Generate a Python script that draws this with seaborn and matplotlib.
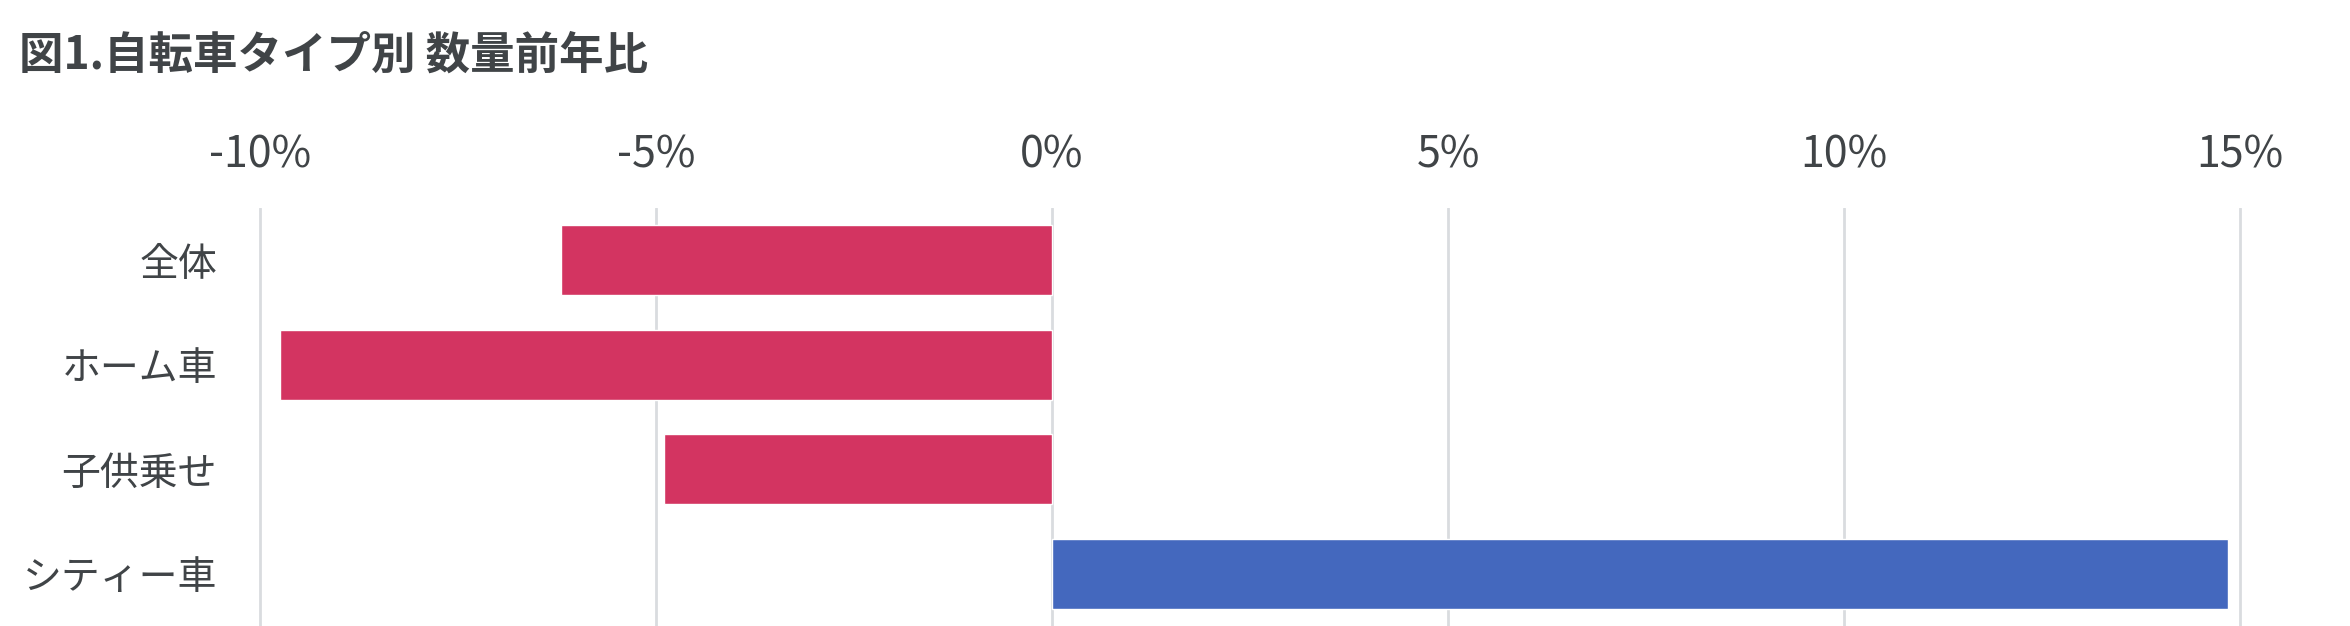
import matplotlib
matplotlib.use('Agg')
import matplotlib.pyplot as plt
import seaborn as sns
import pandas as pd

categories = ['全体', 'ホーム車', '子供乗せ', 'シティー車']
values = [-6.2, -9.75, -4.9, 14.85]
title = '図1.自転車タイプ別 数量前年比'
xticks = [-10, -5, 0, 5, 10, 15]
xtick_labels = [f'{t}%' for t in xticks]

sns.set_theme(style='white')
plt.rcParams['font.family'] = ['Noto Sans CJK JP', 'DejaVu Sans']

W, H = 2350, 626
fig = plt.figure(figsize=(W / 100, H / 100), dpi=100)
ppu = 396 / 5.0
x0 = 1052 - 10.05 * ppu
x1 = 1052 + 15.05 * ppu
ax = fig.add_axes([x0 / W, 0, (x1 - x0) / W, (H - 208) / H])

df = pd.DataFrame({'cat': categories, 'val': values})
colors = ['#D33461' if v < 0 else '#4468BE' for v in values]
sns.barplot(data=df, y='cat', x='val', hue='cat', palette=colors, legend=False,
            orient='h', width=0.667, saturation=1, ax=ax, zorder=3)

ax.set_xlim(-10.05, 15.05)
ax.set_ylim(3.5, -0.5)
ax.set_xticks(xticks)
ax.set_xticklabels(xtick_labels)
ax.xaxis.tick_top()
ax.grid(axis='x', color='#d9dcdf', lw=2, zorder=0)
ax.grid(axis='y', visible=False)
ax.set_axisbelow(True)
for s in ax.spines.values():
    s.set_visible(False)
ax.set_xlabel('')
ax.set_ylabel('')
ax.tick_params(axis='x', length=0, pad=22, labelsize=31, colors='#404447')
ax.tick_params(axis='y', length=0, pad=28, labelsize=28, colors='#404447')

fig.text(19 / W, 1 - 56 / H, title, fontsize=32, fontweight='bold', color='#404447',
         ha='left', va='center')

fig.savefig('out.png', dpi=100)
